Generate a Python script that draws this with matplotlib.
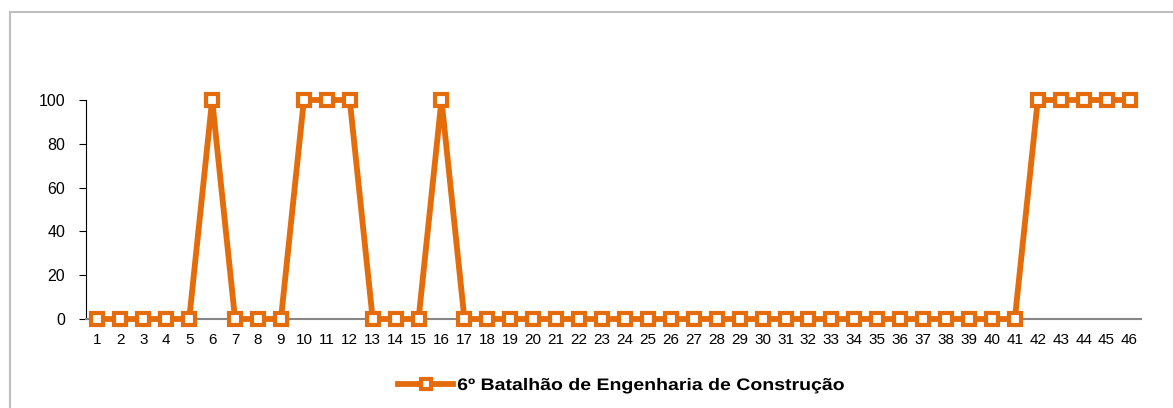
import matplotlib
matplotlib.use("Agg")
import matplotlib.pyplot as plt
from matplotlib.patches import Rectangle
from matplotlib.patheffects import AbstractPathEffect
from matplotlib.transforms import Affine2D

categories = list(range(1, 47))
values = [0, 0, 0, 0, 0, 100, 0, 0, 0, 100, 100, 100, 0, 0, 0, 100, 0,
          0, 0, 0, 0, 0, 0, 0, 0, 0, 0, 0, 0, 0, 0, 0, 0, 0, 0, 0, 0, 0, 0, 0, 0,
          100, 100, 100, 100, 100]
series_name = "6º Batalhão de Engenharia de Construção"
yticks = [0, 20, 40, 60, 80, 100]

orange = "#E46C0A"
plt.rcParams['font.family'] = ['Liberation Sans', 'DejaVu Sans']


class StretchX(AbstractPathEffect):
    """Stretch text horizontally about its left origin."""
    def __init__(self, sx):
        super().__init__()
        self.sx = sx

    def draw_path(self, renderer, gc, tpath, affine, rgbFace=None):
        renderer.draw_path(gc, tpath, Affine2D().scale(self.sx, 1) + affine, rgbFace)


W, H = 1173, 408
fig = plt.figure(figsize=(W / 100, H / 100), dpi=100)

# chart area border (extends past right and bottom edges)
fig.patches.append(Rectangle((10 / W, -0.1), 1.2, 1 - 12 / H + 0.1,
                             transform=fig.transFigure, fill=False,
                             edgecolor="#BFBFBF", linewidth=1.5))

ax = fig.add_axes([86 / W, 1 - 319 / H, (1141 - 86) / W, (319 - 100) / H])
ax.plot(categories, values, color=orange, linewidth=4.2, marker="s",
        markersize=9, markerfacecolor="white", markeredgecolor=orange,
        markeredgewidth=3.0, clip_on=False, zorder=3, label=series_name)

ax.set_xlim(0.5, 46.5)
ax.set_ylim(0, 100)
ax.set_yticks(yticks)
ax.set_xticks(categories)
ax.set_xticklabels([str(c) for c in categories])

for s in ["top", "right"]:
    ax.spines[s].set_visible(False)
ax.spines["left"].set_color("#000000")
ax.spines["left"].set_linewidth(0.8)
ax.spines["bottom"].set_color("#868686")
ax.spines["bottom"].set_linewidth(1.5)

ax.tick_params(axis="y", length=5, width=0.8, color="#000000", labelsize=11.5, pad=10)
ax.tick_params(axis="x", length=0, labelsize=11, pad=10)

leg = fig.legend(loc="center left", bbox_to_anchor=(398 / W, 1 - 385 / H),
                 frameon=False, handlelength=3.3, handletextpad=0.25,
                 borderpad=0, borderaxespad=0, markerscale=0.8,
                 prop={"weight": "bold", "size": 12})
for t in leg.get_texts():
    t.set_path_effects([StretchX(1.17)])

fig.savefig("out.png", dpi=100)
